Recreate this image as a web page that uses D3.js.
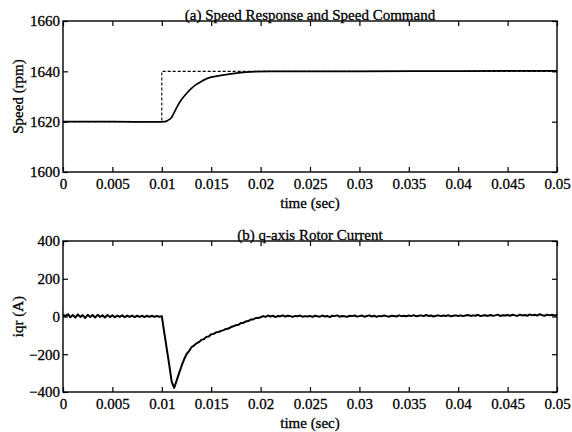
<!DOCTYPE html>
<html><head><meta charset="utf-8">
<script src="https://cdn.jsdelivr.net/npm/d3@7"></script>
<style>
body{margin:0;background:#fff;}
svg text{font-family:"Liberation Serif","Times New Roman",serif;fill:#000;stroke:#000;stroke-width:0.3px;}
</style>
</head><body>
<svg id="c" width="572" height="432"></svg>
<script>
// ---------- data ----------
const xTicks = [0,0.005,0.01,0.015,0.02,0.025,0.03,0.035,0.04,0.045,0.05];
const xTickLabels = ["0","0.005","0.01","0.015","0.02","0.025","0.03","0.035","0.04","0.045","0.05"];
const speedTicks = [1600,1620,1640,1660];
const iqrTicks = [-400,-200,0,200,400];

// speed response (time s, rpm)
const speedTime = [0,0.005,0.0095,0.0103,0.0106,0.011,0.0113,0.0116,0.012,0.0125,0.013,0.0135,0.014,0.0145,0.015,0.016,0.017,0.018,0.019,0.021,0.03,0.04,0.05];
const speedValue = [1620,1620,1619.9,1620,1620.5,1621.8,1624,1626.3,1628.8,1631.2,1633.2,1634.8,1636,1637,1637.7,1638.4,1639.0,1639.5,1639.8,1640,1640,1640.1,1640.2];
// speed command
const cmdTime = [0,0.01,0.01,0.05];
const cmdValue = [1620,1620,1640,1640];

// q-axis rotor current, sampled every 0.00025 s from 0 to 0.05 s
const iqrStep = 0.00025;
const iqrValue = [
 10,2,12,-4,8,-6,11,-2,7,-8,9,-3,8,-6,9,-2,6,-5,8,-3,
 6,-4,5,-2,6,-4,5,-2,5,-3,4,-2,4,-3,4,-2,4,-2,3,-1,
 2,-85,-170,-255,-345,-378,-340,-300,-262,-228,-200,-184,-163,-154,-143,-136,-124,-120,-108,-106,
 -94,-92,-84,-82,-76,-72,-66,-64,-56,-52,-46,-44,-35,-34,-26,-24,-16,-16,-8,-8,
 -4,2,-2,5,0,4,-3,3,1,6,-1,4,2,-2,3,1,5,-1,2,0,
 3,-2,4,1,-1,5,0,3,-3,4,2,6,-1,3,1,-2,4,2,5,0,
 2,5,-1,3,6,0,4,-2,3,1,5,2,-1,4,3,0,6,2,4,1,
 5,2,7,1,4,6,2,8,3,5,0,4,6,2,5,3,7,1,4,6,
 3,6,2,5,8,3,6,4,9,2,5,7,3,8,4,6,10,3,7,5,
 8,4,9,6,3,10,5,8,4,11,6,9,5,12,7,4,10,6,9,5,
 8
];

// ---------- drawing ----------
const svg = d3.select("#c");
const left = 63, right = 557;
const x = d3.scaleLinear().domain([0,0.05]).range([left,right]);
const FS = 15;

function panel(top, bottom, domain, yTicks, title, ylabel){
  const y = d3.scaleLinear().domain(domain).range([bottom, top]);
  const g = svg.append("g");
  g.append("rect").attr("x",left).attr("y",top).attr("width",right-left).attr("height",bottom-top)
    .attr("fill","none").attr("stroke","#000").attr("stroke-width",1.4);
  const tl = 5;
  const xb = d3.axisBottom(x).tickValues(xTicks).tickFormat((d,i)=>xTickLabels[i]).tickSizeInner(-tl).tickSizeOuter(0).tickPadding(6);
  const ga = g.append("g").attr("transform",`translate(0,${bottom})`).call(xb);
  ga.select(".domain").remove();
  ga.selectAll("line").attr("stroke","#000").attr("stroke-width",1.2);
  ga.selectAll("text").attr("font-size",FS).style("font-family","Liberation Serif");
  const xt = d3.axisTop(x).tickValues(xTicks).tickFormat("").tickSizeInner(-tl).tickSizeOuter(0);
  const gt = g.append("g").attr("transform",`translate(0,${top})`).call(xt);
  gt.select(".domain").remove();
  gt.selectAll("line").attr("stroke","#000").attr("stroke-width",1.2);
  const yl = d3.axisLeft(y).tickValues(yTicks).tickFormat(d3.format("d")).tickSizeInner(-tl).tickSizeOuter(0).tickPadding(3);
  const gl = g.append("g").attr("transform",`translate(${left},0)`).call(yl);
  gl.select(".domain").remove();
  gl.selectAll("line").attr("stroke","#000").attr("stroke-width",1.2);
  gl.selectAll("text").attr("font-size",FS).style("font-family","Liberation Serif");
  const yr = d3.axisRight(y).tickValues(yTicks).tickFormat("").tickSizeInner(-tl).tickSizeOuter(0);
  const gr = g.append("g").attr("transform",`translate(${right},0)`).call(yr);
  gr.select(".domain").remove();
  gr.selectAll("line").attr("stroke","#000").attr("stroke-width",1.2);
  g.append("text").attr("x",(left+right)/2).attr("y",top-1).attr("text-anchor","middle")
    .attr("font-size",FS).text(title);
  g.append("text").attr("x",(left+right)/2).attr("y",bottom+36).attr("text-anchor","middle")
    .attr("font-size",FS).text("time (sec)");
  g.append("text").attr("transform",`translate(23,${(top+bottom)/2}) rotate(-90)`).attr("text-anchor","middle")
    .attr("font-size",FS).text(ylabel);
  return {y,g};
}

const p1 = panel(21, 172, [1600,1660], speedTicks, "(a) Speed Response and Speed Command", "Speed (rpm)");
const p2 = panel(241, 392, [-400,400], iqrTicks, "(b) q-axis Rotor Current", "iqr (A)");

const line1 = d3.line().x(d=>x(d[0])).y(d=>p1.y(d[1]));
p1.g.append("path").datum(cmdTime.map((t,i)=>[t,cmdValue[i]]))
  .attr("d",line1).attr("fill","none").attr("stroke","#000").attr("stroke-width",1.1).attr("stroke-dasharray","3,2");
p1.g.append("path").datum(speedTime.map((t,i)=>[t,speedValue[i]]))
  .attr("d",line1.curve(d3.curveMonotoneX)).attr("fill","none").attr("stroke","#000").attr("stroke-width",1.7);

const line2 = d3.line().x(d=>x(d[0])).y(d=>p2.y(d[1]));
p2.g.append("path").datum(iqrValue.map((v,i)=>[i*iqrStep,v]))
  .attr("d",line2).attr("fill","none").attr("stroke","#000").attr("stroke-width",2).attr("stroke-linejoin","round");
</script>
</body></html>
